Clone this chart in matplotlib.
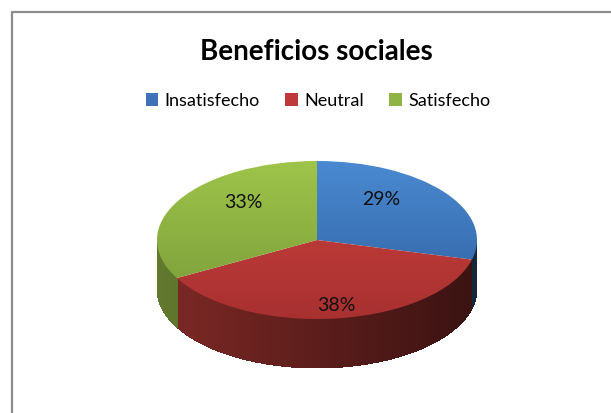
import matplotlib
matplotlib.use("Agg")
import matplotlib.pyplot as plt
import numpy as np
from matplotlib.patches import Wedge, Patch
from matplotlib.collections import PolyCollection
from matplotlib.transforms import Affine2D

plt.rcParams["font.family"] = ["Lato", "DejaVu Sans"]

# data
categories = ["Insatisfecho", "Neutral", "Satisfecho"]
values = [29, 38, 33]
labels = ["29%", "38%", "33%"]
title = "Beneficios sociales"

# colours: (top light, top dark) for each slice, plus legend swatch
top_light = [(0.29, 0.54, 0.82), (0.80, 0.26, 0.24), (0.62, 0.77, 0.29)]
top_dark = [(0.18, 0.37, 0.62), (0.66, 0.19, 0.19), (0.47, 0.60, 0.22)]
swatch = ["#3f72b8", "#c0393a", "#8fb443"]

W, H = 611, 413
fig = plt.figure(figsize=(W / 100, H / 100), dpi=100)
ax = fig.add_axes([0, 0, 1, 1])
ax.set_xlim(0, W)
ax.set_ylim(0, H)
ax.axis("off")

# chart frame (right and bottom edges fall outside the picture)
ax.plot([12, 12, W + 5], [-5, H - 12, H - 12], color="#8c8c8c", lw=1.6)

# pie geometry (pixels, y up)
cx, cy = 317, H - 240
rx, ry = 160, 79
depth = 49

fr = np.array(values, dtype=float) / sum(values)
ends = 90 - 360 * np.cumsum(fr)
starts = np.r_[90, ends[:-1]]

# side walls: only the front half (180..360 deg) is visible
for i in range(len(values)):
    a0, a1 = ends[i] % 360, starts[i] % 360
    if a1 <= a0:
        a1 += 360
    lo, hi = max(a0, 180), min(a1, 360)
    if hi <= lo:
        lo, hi = max(a0, 540), min(a1, 720)
        if hi <= lo:
            continue
    ts = np.linspace(lo, hi, 150)
    base = np.array(top_light[i])
    polys, cols = [], []
    for t0, t1 in zip(ts[:-1], ts[1:]):
        r0, r1 = np.radians(t0), np.radians(t1 + 0.4 * (t1 < hi))
        x0, x1 = cx + rx * np.cos(r0), cx + rx * np.cos(r1)
        y0, y1 = cy + ry * np.sin(r0), cy + ry * np.sin(r1)
        xn = ((x0 + x1) / 2 - (cx - rx)) / (2 * rx)
        polys.append([(x0, y0), (x1, y1), (x1, y1 - depth), (x0, y0 - depth)])
        cols.append(base * (0.62 - 0.34 * xn))
    ax.add_collection(PolyCollection(polys, facecolors=cols, edgecolors="none",
                                     antialiased=False, zorder=1))

# top faces with vertical gradient
tr = Affine2D().scale(rx, ry).translate(cx, cy) + ax.transData
for i in range(len(values)):
    w = Wedge((0, 0), 1, ends[i], starts[i], transform=tr, fc="none", ec="none")
    ax.add_patch(w)
    g = np.linspace(0, 1, 256)[:, None]
    img = (1 - g)[..., None] * np.array(top_light[i]) + g[..., None] * np.array(top_dark[i])
    img = np.repeat(img, 2, axis=1)
    im = ax.imshow(img, extent=[cx - rx, cx + rx, cy - ry, cy + ry], origin="upper",
                   aspect="auto", zorder=2, interpolation="bilinear")
    im.set_clip_path(w)

# percentage labels
lab_pos = [(381, 205), (336, 311), (243, 208)]
for (x, y), t in zip(lab_pos, labels):
    ax.text(x, H - y, t, ha="center", va="baseline", fontsize=14, color="#111111", zorder=5)

# title
fig.text(316 / W, 1 - 60 / H, title, ha="center", va="baseline",
         fontsize=20, fontweight="bold", color="black")

# legend
handles = [Patch(facecolor=c, edgecolor="none") for c in swatch]
fig.legend(handles, categories, loc="center", bbox_to_anchor=(318 / W, 1 - 101 / H),
           ncol=3, frameon=False, fontsize=13, handlelength=0.7, handleheight=0.7,
           handletextpad=0.35, columnspacing=1.4)

fig.savefig("out.png", dpi=100)
